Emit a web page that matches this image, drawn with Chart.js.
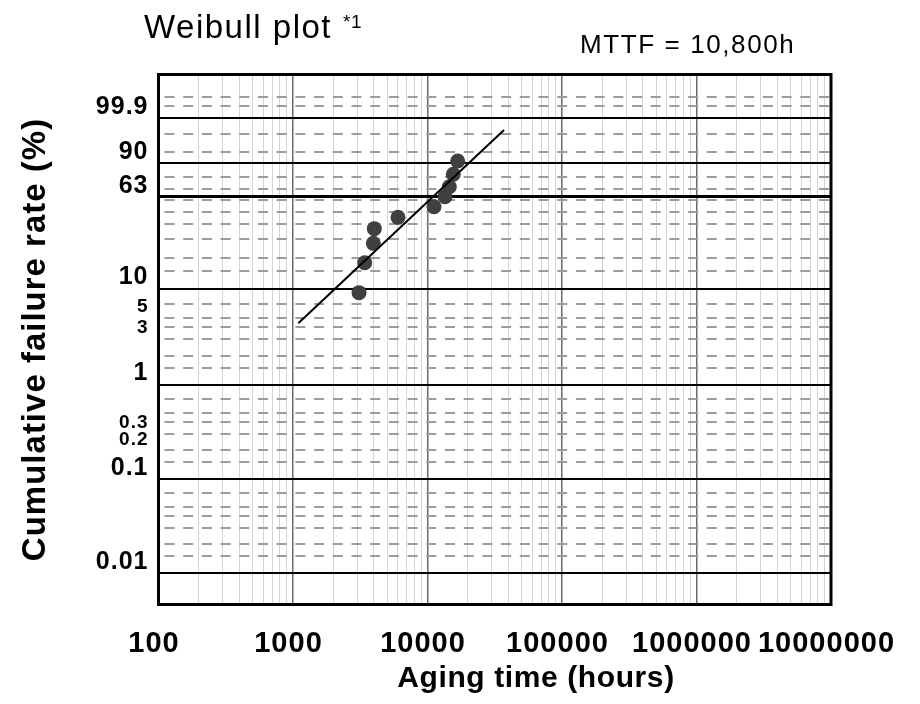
<!DOCTYPE html>
<html>
<head>
<meta charset="utf-8">
<script src="https://cdn.jsdelivr.net/npm/chart.js@4/dist/chart.umd.min.js"></script>
<style>html,body{margin:0;padding:0;background:#fff}canvas{display:block}</style>
</head>
<body>
<canvas id="c" width="920" height="704"></canvas>
<script>
// ---- data ----
const agingHours = [3096, 3413, 3954, 4022, 6035, 11180, 13490, 14530, 15550, 16770];
const failurePct = [9.1, 18.0, 27.3, 36.7, 45.3, 54.3, 63.2, 72.1, 82.3, 90.9];
const fitHours = [1095, 37060];
const fitPct = [4.4, 99.4];
const xTickDecades = [100, 1000, 10000, 100000, 1000000, 10000000];
const yMajorPct = [0.01, 0.1, 1, 10, 63.2, 90, 99.9];
const yDashedPct = [0.015, 0.02, 0.03, 0.04, 0.05, 0.07,
                    0.15, 0.2, 0.3, 0.4, 0.5, 0.7,
                    1.5, 2, 3, 4, 5, 7,
                    15, 20, 30, 40, 50, 60,
                    70, 80, 95, 99, 99.99, 99.9989];
const yLabelPct  = [0.01, 0.1, 0.2, 0.3, 1, 3, 5, 10, 63.2, 90, 99.9];
const yLabelText = ['0.01', '0.1', '0.2', '0.3', '1', '3', '5', '10', '63', '90', '99.9'];
const ySmallLabelPct = [0.2, 0.3, 3, 5];
const titleText = 'Weibull plot';
const titleNote = '*1';
const mttfText = 'MTTF = 10,800h';
const xTitle = 'Aging time (hours)';
const yTitle = 'Cumulative failure rate (%)';

const FONT = '"Liberation Sans", Arial, Helvetica, sans-serif';
// Weibull probability transform
const weib = p => Math.log10(-Math.log(1 - p / 100));

const yTicks = yMajorPct.map(p => ({pct: p, solid: true}))
  .concat(yDashedPct.map(p => ({pct: p, solid: false})))
  .sort((a, b) => a.pct - b.pct)
  .map(t => {
    const li = yLabelPct.indexOf(t.pct);
    return {value: weib(t.pct), pct: t.pct, solid: t.solid, txt: li >= 0 ? yLabelText[li] : ''};
  });

const isDecade = v => Math.abs(Math.log10(v) - Math.round(Math.log10(v))) < 1e-9;

const spacingPlugin = {
  id: 'spacing',
  beforeDraw(chart) { chart.ctx.letterSpacing = '1px'; }
};
const framePlugin = {
  id: 'frame',
  beforeDatasetsDraw(chart) {
    const {ctx, chartArea: a} = chart;
    ctx.save();
    ctx.strokeStyle = '#000';
    ctx.lineWidth = 3;
    ctx.strokeRect(a.left, a.top, a.right - a.left, a.bottom - a.top);
    ctx.restore();
  }
};
const textPlugin = {
  id: 'texts',
  afterDraw(chart) {
    const ctx = chart.ctx;
    ctx.save();
    ctx.fillStyle = '#000';
    ctx.textBaseline = 'alphabetic';
    ctx.textAlign = 'left';
    ctx.font = '33px ' + FONT; ctx.letterSpacing = '1.5px';
    ctx.fillText(titleText, 144, 38.3);
    ctx.font = '19px ' + FONT; ctx.letterSpacing = '0.5px';
    ctx.fillText(titleNote, 343, 28.3);
    ctx.font = '26px ' + FONT; ctx.letterSpacing = '1.6px';
    ctx.fillText(mttfText, 580, 53.3);
    ctx.font = 'bold 30px ' + FONT; ctx.letterSpacing = '0.6px';
    ctx.textAlign = 'center';
    ctx.fillText(xTitle, 536, 686.7);
    ctx.restore();
  }
};

Chart.defaults.color = '#000';

new Chart(document.getElementById('c'), {
  type: 'scatter',
  data: {
    datasets: [
      {
        label: 'fit',
        data: fitHours.map((h, i) => ({x: h, y: weib(fitPct[i])})),
        showLine: true,
        borderColor: '#000',
        borderWidth: 2,
        pointRadius: 0,
        order: 0
      },
      {
        label: 'samples',
        data: agingHours.map((h, i) => ({x: h, y: weib(failurePct[i])})),
        backgroundColor: '#404040',
        borderColor: '#404040',
        borderWidth: 0,
        pointRadius: 7.5,
        order: 1
      }
    ]
  },
  options: {
    responsive: false,
    animation: false,
    layout: {padding: {left: 0, top: 74.5, right: 89, bottom: 0}},
    plugins: {legend: {display: false}, tooltip: {enabled: false}},
    scales: {
      x: {
        type: 'logarithmic',
        position: 'bottom',
        min: 100,
        max: 10000000,
        afterBuildTicks: s => {
          const t = [];
          for (let d = 100; d < 10000000; d *= 10) {
            for (let m = 1; m < 10; m++) t.push({value: d * m});
          }
          t.push({value: 10000000});
          s.ticks = t;
        },
        afterFit: s => { s.height = 99.5; },
        grid: {
          drawTicks: false,
          color: c => (c.tick && isDecade(c.tick.value)) ? '#6a6a6a' : '#d4d4d4',
          lineWidth: c => (c.tick && isDecade(c.tick.value)) ? 1.5 : 1
        },
        border: {display: false},
        ticks: {
          autoSkip: false,
          maxRotation: 0,
          minRotation: 0,
          padding: 22,
          labelOffset: -4.5,
          color: '#000',
          font: {family: FONT, size: 29, weight: 'bold'},
          callback: v => xTickDecades.includes(v) ? String(v) : ''
        }
      },
      y: {
        type: 'linear',
        min: -4.338,
        max: 1.30,
        afterBuildTicks: s => { s.ticks = yTicks.map(t => Object.assign({}, t)); },
        afterFit: s => { s.width = 158.5; },
        grid: {
          drawTicks: false,
          color: c => (c.tick && c.tick.solid) ? '#000' : '#9c9c9c',
          lineWidth: c => (c.tick && c.tick.solid) ? (c.tick.pct === 63.2 ? 3 : 2) : 2
        },
        border: {
          display: false,
          dash: c => (c.tick && !c.tick.solid) ? [10, 8.7] : [],
          dashOffset: 13.2
        },
        ticks: {
          autoSkip: false,
          padding: 10,
          labelOffset: -11,
          color: '#000',
          font: c => ({family: FONT, weight: 'bold',
                       size: (c.tick && ySmallLabelPct.includes(c.tick.pct)) ? 19 : 25}),
          callback: (v, i, ticks) => ticks[i].txt
        },
        title: {
          display: true,
          text: yTitle,
          color: '#000',
          font: {family: FONT, size: 33, weight: 'bold'},
          padding: {top: 16, bottom: 0}
        }
      }
    }
  },
  plugins: [spacingPlugin, framePlugin, textPlugin]
});
</script>
</body>
</html>
